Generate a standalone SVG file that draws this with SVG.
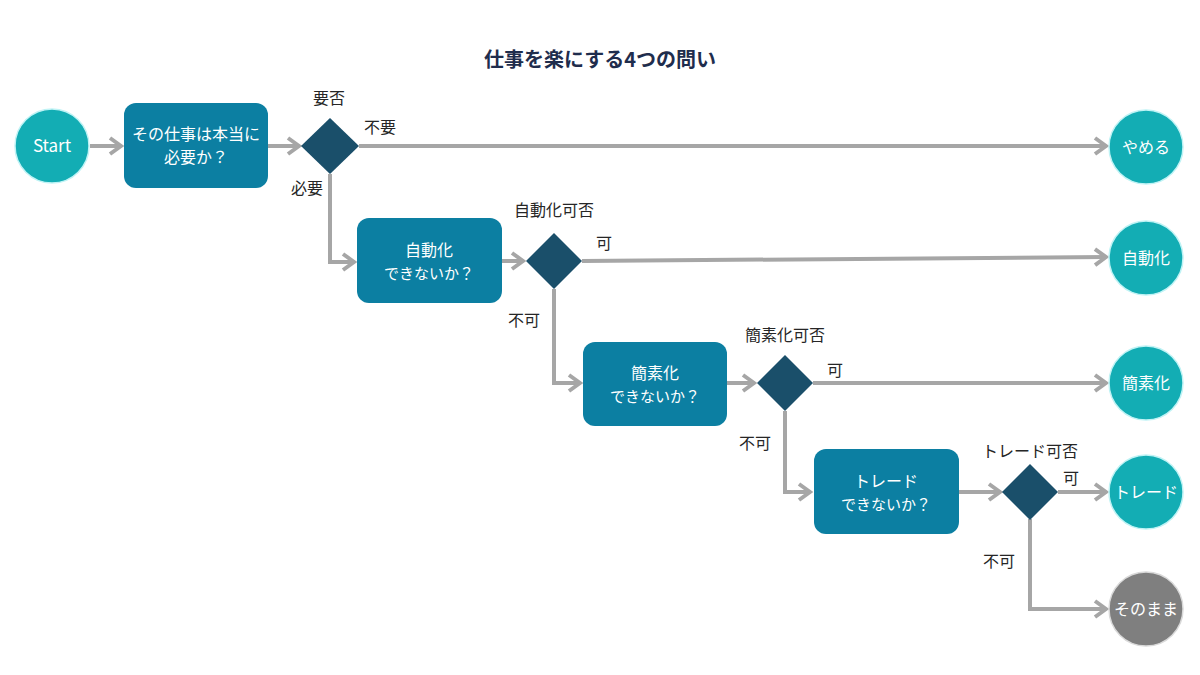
<svg xmlns="http://www.w3.org/2000/svg" width="1200" height="675" viewBox="0 0 1200 675">
<defs>
<style>
.bg{fill:#ffffff}
.title{font-family:"Noto Sans CJK JP","Noto Sans",sans-serif;font-size:20px;font-weight:bold;fill:#1F2D4D;text-anchor:middle}
.box{fill:#0C7FA2}
.dia{fill:#1A4F6A}
.term{fill:#13ADB4;stroke:#BFF3F5;stroke-width:1.5}
.gray{fill:#7F7F7F;stroke:#D9D9D9;stroke-width:1.5}
.wt{font-family:"Noto Sans CJK JP","Noto Sans",sans-serif;font-size:16px;fill:#ffffff;text-anchor:middle}
.sm{font-size:15px}
.st{font-size:17px}
.lbl{font-family:"Noto Sans CJK JP","Noto Sans",sans-serif;font-size:16px;fill:#262626;text-anchor:middle}
.con{fill:none;stroke:#A6A6A6;stroke-width:4;marker-end:url(#arr)}
</style>
<marker id="arr" markerUnits="userSpaceOnUse" viewBox="0 0 16 20" markerWidth="16" markerHeight="20" refX="13" refY="10" orient="auto">
<path d="M2,2 L13,10 L2,18" fill="none" stroke="#A6A6A6" stroke-width="4"/>
</marker>
</defs>
<rect class="bg" x="0" y="0" width="1200" height="675"/>
<text class="title" x="600" y="67">仕事を楽にする4つの問い</text>

<g id="connectors">
<path class="con" d="M90,146 L121,146"/>
<path class="con" d="M268,146 L299,146"/>
<path class="con" d="M359,146 L1106,146"/>
<path class="con" d="M330,174 L330,262 L354,262"/>
<path class="con" d="M502,261 L523,261"/>
<path class="con" d="M582,261 L1106,257"/>
<path class="con" d="M554,289 L554,383 L580,383"/>
<path class="con" d="M727,383 L754,383"/>
<path class="con" d="M813,383 L1106,383"/>
<path class="con" d="M785,411 L785,492 L810,492"/>
<path class="con" d="M959,492 L1000,492"/>
<path class="con" d="M1058,492 L1106,492"/>
<path class="con" d="M1030,519 L1030,609 L1106,609"/>
</g>

<g id="start"><circle class="term" cx="52" cy="146" r="37"/><text class="wt st" x="52" y="152">Start</text></g>

<g id="q1"><rect class="box" x="124" y="103" width="144" height="85" rx="12"/><text class="wt" x="196" y="140">その仕事は本当に</text><text class="wt" x="196" y="163">必要か？</text></g>
<g id="d1"><polygon class="dia" points="330,118 359,146 330,174 301,146"/><text class="lbl" x="329" y="104">要否</text></g>
<g id="l1"><text class="lbl" x="380" y="133">不要</text><text class="lbl" x="307" y="194">必要</text></g>

<g id="q2"><rect class="box" x="357" y="218" width="145" height="85" rx="12"/><text class="wt" x="429" y="256">自動化</text><text class="wt sm" x="429" y="279">できないか？</text></g>
<g id="d2"><polygon class="dia" points="554,233 582,261 554,289 526,261"/><text class="lbl" x="554" y="216">自動化可否</text></g>
<g id="l2"><text class="lbl" x="604" y="249">可</text><text class="lbl" x="524" y="326">不可</text></g>

<g id="q3"><rect class="box" x="583" y="342" width="144" height="84" rx="12"/><text class="wt" x="655" y="379">簡素化</text><text class="wt sm" x="655" y="402">できないか？</text></g>
<g id="d3"><polygon class="dia" points="785,355 813,383 785,411 757,383"/><text class="lbl" x="785" y="341">簡素化可否</text></g>
<g id="l3"><text class="lbl" x="835" y="376">可</text><text class="lbl" x="755" y="449">不可</text></g>

<g id="q4"><rect class="box" x="814" y="449" width="145" height="85" rx="12"/><text class="wt" x="886" y="487">トレード</text><text class="wt sm" x="886" y="510">できないか？</text></g>
<g id="d4"><polygon class="dia" points="1030,464 1058,492 1030,520 1002,492"/><text class="lbl" x="1030" y="457">トレード可否</text></g>
<g id="l4"><text class="lbl" x="1071" y="484">可</text><text class="lbl" x="999" y="567">不可</text></g>

<g id="end1"><circle class="term" cx="1146" cy="147" r="37"/><text class="wt" x="1146" y="153">やめる</text></g>
<g id="end2"><circle class="term" cx="1146" cy="258" r="37"/><text class="wt" x="1146" y="264">自動化</text></g>
<g id="end3"><circle class="term" cx="1146" cy="383" r="37"/><text class="wt" x="1146" y="389">簡素化</text></g>
<g id="end4"><circle class="term" cx="1146" cy="492" r="37"/><text class="wt" x="1146" y="498">トレード</text></g>
<g id="end5"><circle class="gray" cx="1146" cy="609" r="37"/><text class="wt" x="1146" y="615">そのまま</text></g>
</svg>
